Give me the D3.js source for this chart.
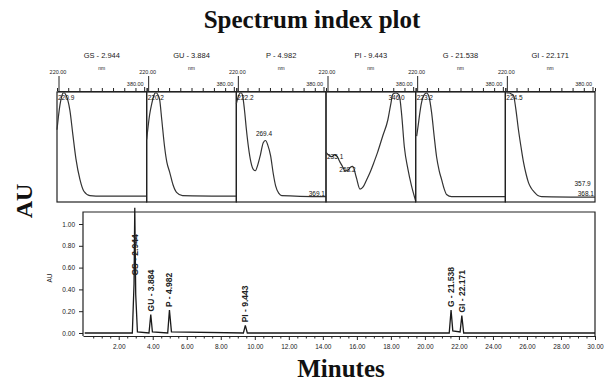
<!DOCTYPE html>
<html><head><meta charset="utf-8">
<script src="https://cdn.jsdelivr.net/npm/d3@7"></script>
<style>body{margin:0;background:#fff}svg{display:block}</style>
</head><body>
<svg id="c" width="606" height="384"></svg>
<script>
// ---------- data ----------
const peakNames = ["GS", "GU", "P", "PI", "G", "GI"];
const retentionTimes = [2.944, 3.884, 4.982, 9.443, 21.538, 22.171];

// chromatogram trace (minutes, AU)
const chromTime = [0, 2.80, 2.90, 2.944, 3.00, 3.10, 3.78, 3.884, 3.98, 4.88, 4.982, 5.10, 9.33, 9.443, 9.56, 21.43, 21.538, 21.64, 22.07, 22.171, 22.28, 30];
const chromAU   = [0, 0, 0.45, 1.15, 0.35, 0.01, 0, 0.17, 0.01, 0, 0.21, 0.01, 0, 0.07, 0, 0, 0.21, 0.02, 0.01, 0.16, 0, 0];

const auTicks = [0, 0.2, 0.4, 0.6, 0.8, 1.0];
const minuteTicks = [2, 4, 6, 8, 10, 12, 14, 16, 18, 20, 22, 24, 26, 28, 30];
const wavelengthTicks = [220, 240, 260, 280, 300, 320, 340, 360, 380];

// UV spectra (nm, relative absorbance) for each peak
const specGS_nm  = [220, 222.5, 225.3, 228, 230.7, 233.5, 236, 239.5, 243, 248.4, 253.8, 260.9, 268, 278.7, 300, 380];
const specGS_ab  = [0.66, 0.78, 0.89, 0.96, 1.0, 1.0, 0.98, 0.93, 0.84, 0.61, 0.39, 0.2, 0.09, 0.05, 0.045, 0.045];
const specGU_nm  = [220, 225.3, 229, 232.4, 235, 237.8, 240.5, 243.1, 247, 252, 256, 260.9, 267, 273.3, 284, 380];
const specGU_ab  = [0.57, 0.8, 0.9, 0.97, 1.0, 1.0, 0.98, 0.94, 0.75, 0.5, 0.36, 0.27, 0.15, 0.08, 0.05, 0.045];
const specP_nm   = [220, 223.6, 227, 229, 231, 234.4, 238, 241.6, 246, 250.6, 254, 258, 263.1, 268, 272.1, 276, 281.1, 286, 290.1, 296, 301, 380];
const specP_ab   = [0.9, 0.97, 1.0, 1.0, 0.98, 0.85, 0.66, 0.5, 0.36, 0.29, 0.28, 0.33, 0.43, 0.54, 0.56, 0.52, 0.42, 0.25, 0.14, 0.07, 0.05, 0.04];
const specPI_nm  = [220, 226, 231, 235, 240.2, 245, 249.4, 254, 258.6, 263, 267.8, 274, 280.7, 286.2, 292, 299.1, 305, 312, 321.1, 330.3, 335, 339.5, 345, 350.6, 355, 359.8, 366, 372.6, 380];
const specPI_ab  = [0.45, 0.42, 0.41, 0.43, 0.41, 0.36, 0.32, 0.28, 0.28, 0.31, 0.32, 0.22, 0.11, 0.13, 0.19, 0.27, 0.35, 0.45, 0.6, 0.75, 0.88, 0.99, 1.0, 0.98, 0.8, 0.5, 0.3, 0.14, 0.0];
const specG_nm   = [221.8, 224.5, 227, 230, 232.4, 236, 239.5, 243.5, 248.4, 253, 257.3, 262, 266.2, 271, 275.1, 284, 380];
const specG_ab   = [0.6, 0.7, 0.8, 0.9, 0.95, 0.99, 1.0, 0.97, 0.82, 0.6, 0.41, 0.28, 0.2, 0.11, 0.06, 0.04, 0.04];
const specGI_nm  = [221.8, 227.2, 231, 234.4, 238.5, 243.4, 248, 252.4, 257, 261.3, 266, 272.1, 278, 284.7, 380];
const specGI_ab  = [1.0, 1.0, 0.99, 0.98, 0.86, 0.66, 0.5, 0.36, 0.25, 0.17, 0.12, 0.08, 0.05, 0.04, 0.035];
const spectraNm = [specGS_nm, specGU_nm, specP_nm, specPI_nm, specG_nm, specGI_nm];
const spectraAb = [specGS_ab, specGU_ab, specP_ab, specPI_ab, specG_ab, specGI_ab];

// labelled wavelengths in each spectrum and the absorbance level where the label sits
const specLabelNm = [[220.9], [220.2], [222.2, 269.4, 369.1], [235.1, 258.2, 346.0], [223.2], [224.5, 357.9, 368.1]];
const specLabelAb = [[1], [1], [1, 0.58, 0.03], [0.37, 0.25, 1], [1], [1, 0.12, 0.03]];

// ---------- drawing ----------
const svg = d3.select("#c");
const ink = "#222";
const sans = "Liberation Sans, Arial, sans-serif";
const serif = "Liberation Serif, Times New Roman, serif";

// titles
svg.append("text").attr("x", 312).attr("y", 28).attr("text-anchor", "middle")
  .attr("font-family", serif).attr("font-weight", "bold").attr("font-size", 25)
  .attr("fill", "#111").text("Spectrum index plot");
svg.append("text").attr("x", 341).attr("y", 377).attr("text-anchor", "middle")
  .attr("font-family", serif).attr("font-weight", "bold").attr("font-size", 25)
  .attr("fill", "#111").text("Minutes");
svg.append("text").attr("transform", "translate(32,201) rotate(-90)").attr("text-anchor", "middle")
  .attr("font-family", serif).attr("font-weight", "bold").attr("font-size", 24)
  .attr("fill", "#111").text("AU");

// ---- spectrum panels ----
const specTop = 92, specBottom = 202;
const panelBand = d3.scaleBand().domain(peakNames).range([57, 595]).paddingInner(0).paddingOuter(0);
const ySpec = d3.scaleLinear().domain([0, 1]).range([specBottom - 1, specTop + 1]);

peakNames.forEach((name, i) => {
  const left = panelBand(name), right = left + panelBand.bandwidth();
  const xs = d3.scaleLinear().domain([220, 380]).range([left, right]);
  const g = svg.append("g");

  // frame
  g.append("rect").attr("x", left).attr("y", specTop).attr("width", right - left)
    .attr("height", specBottom - specTop).attr("fill", "none").attr("stroke", ink).attr("stroke-width", 1.2);

  // top wavelength axis
  const ax = g.append("g").attr("transform", `translate(0,${specTop - 1})`)
    .call(d3.axisTop(xs).tickValues(wavelengthTicks).tickSize(3).tickSizeOuter(0).tickFormat(""));
  ax.selectAll("path,line").attr("stroke", ink);

  // header text
  g.append("text").attr("x", (left + right) / 2).attr("y", 58).attr("text-anchor", "middle")
    .attr("font-family", sans).attr("font-size", 7.5).attr("fill", ink)
    .text(`${name} - ${retentionTimes[i].toFixed(3)}`);
  g.append("text").attr("x", (left + right) / 2).attr("y", 70).attr("text-anchor", "middle")
    .attr("font-family", sans).attr("font-size", 5).attr("fill", ink).text("nm");
  g.append("text").attr("x", xs(220) + 1).attr("y", 74).attr("text-anchor", "middle")
    .attr("font-family", sans).attr("font-size", 5.5).attr("fill", ink).text(d3.format(".2f")(220));
  g.append("line").attr("x1", xs(220) + 2).attr("x2", xs(220) + 2).attr("y1", 76).attr("y2", specTop - 1)
    .attr("stroke", ink);
  g.append("text").attr("x", xs(380) - 3).attr("y", 86).attr("text-anchor", "end")
    .attr("font-family", sans).attr("font-size", 5.5).attr("fill", ink).text(d3.format(".2f")(380));
  g.append("line").attr("x1", xs(380) - 2).attr("x2", xs(380) - 2).attr("y1", 87).attr("y2", specTop - 1)
    .attr("stroke", ink);

  // spectrum curve
  const pts = spectraNm[i].map((nm, k) => [nm, spectraAb[i][k]]);
  g.append("path").datum(pts)
    .attr("d", d3.line().x(d => xs(d[0])).y(d => ySpec(d[1])).curve(d3.curveMonotoneX))
    .attr("fill", "none").attr("stroke", "#333").attr("stroke-width", 1.2);

  // wavelength labels
  specLabelNm[i].forEach((nm, k) => {
    const t = g.append("text").attr("font-family", sans).attr("font-size", 6.5).attr("fill", "#111")
      .attr("text-anchor", "start").text(nm.toFixed(1));
    const w = t.node().getComputedTextLength();
    let x = xs(nm) - w / 2;
    x = Math.max(left + 1, Math.min(right - 1 - w, x));
    let y = ySpec(specLabelAb[i][k]) - 2;
    y = Math.max(specTop + 7.5, Math.min(specBottom - 2, y));
    t.attr("x", x).attr("y", y);
  });
});

// ---- chromatogram ----
const chLeft = 83, chRight = 595, chTop = 212, axisY = 336;
const x = d3.scaleLinear().domain([-0.1, 30]).range([chLeft, chRight]);
const y = d3.scaleLinear().domain([0, 1]).range([333, 224]);

// frame (left, top and right)
svg.append("path").attr("d", `M${chLeft},${axisY}V${chTop}H${chRight}V${axisY}`)
  .attr("fill", "none").attr("stroke", ink).attr("stroke-width", 1.2);

// y axis
const yAx = svg.append("g").attr("transform", `translate(${chLeft},0)`)
  .call(d3.axisLeft(y).tickValues(auTicks).tickSize(4).tickSizeOuter(0).tickFormat(d3.format(".2f")));
yAx.select(".domain").remove();
yAx.selectAll("line").attr("stroke", ink);
yAx.selectAll("text").attr("font-family", sans).attr("font-size", 6.5).attr("fill", ink).attr("dx", "-1");

svg.append("text").attr("transform", "translate(52,278) rotate(-90)").attr("text-anchor", "middle")
  .attr("font-family", sans).attr("font-size", 6.5).attr("fill", ink).text("AU");

// x axis
const minor = d3.range(0.5, 30, 0.5).filter(v => !minuteTicks.includes(v));
const xMinor = svg.append("g").attr("transform", `translate(0,${axisY})`)
  .call(d3.axisBottom(x).tickValues(minor).tickSize(2.5).tickFormat(""));
xMinor.select(".domain").remove();
xMinor.selectAll("line").attr("stroke", ink);
const xAx = svg.append("g").attr("transform", `translate(0,${axisY})`)
  .call(d3.axisBottom(x).tickValues(minuteTicks).tickSize(4).tickSizeOuter(0).tickFormat(d3.format(".2f")));
xAx.select(".domain").attr("stroke", ink);
xAx.selectAll("line").attr("stroke", ink);
xAx.selectAll("text").attr("font-family", sans).attr("font-size", 6.5).attr("fill", ink).attr("dy", "0.9em");

// trace
const trace = chromTime.map((t, k) => [t, chromAU[k]]);
svg.append("path").datum(trace)
  .attr("d", d3.line().x(d => x(d[0])).y(d => y(d[1])))
  .attr("fill", "none").attr("stroke", "#1a1a1a").attr("stroke-width", 1.3);

// peak labels
retentionTimes.forEach((rt, i) => {
  const k = chromTime.indexOf(rt);
  const h = chromAU[k];
  const yb = y(Math.min(h, 0.5)) - 3;
  svg.append("text").attr("transform", `translate(${x(rt)},${yb}) rotate(-90)`)
    .attr("dy", "0.35em").attr("text-anchor", "start")
    .attr("font-family", sans).attr("font-weight", "bold").attr("font-size", 8.5).attr("fill", "#222")
    .text(`${peakNames[i]} - ${rt.toFixed(3)}`);
});
</script>
</body></html>
